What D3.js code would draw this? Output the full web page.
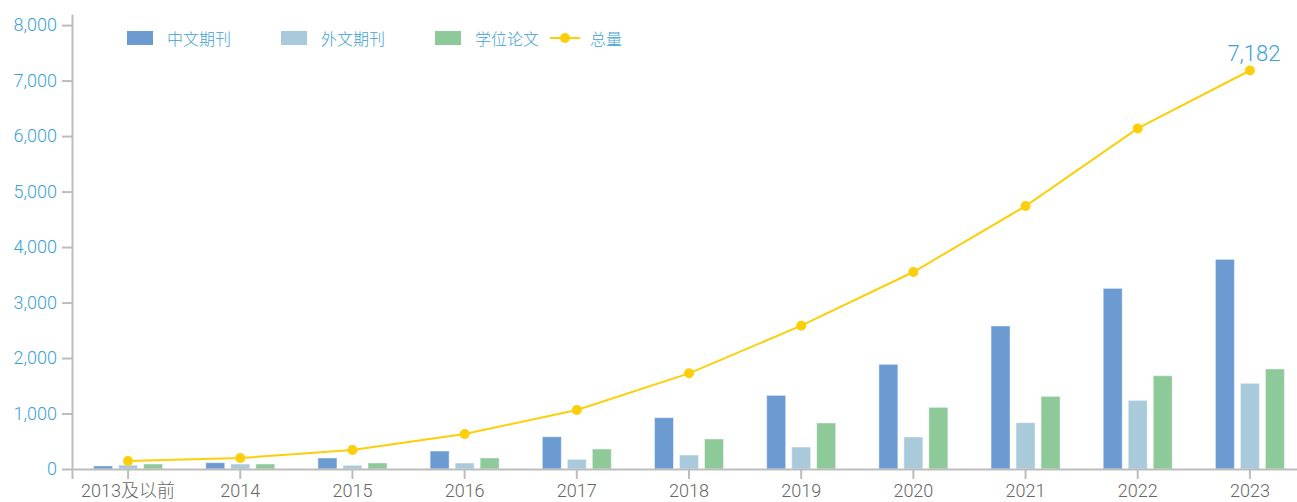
<!DOCTYPE html>
<html>
<head>
<meta charset="utf-8">
<script src="https://cdn.jsdelivr.net/npm/d3@7"></script>
<style>
  body { margin: 0; background: #fff; }
  svg { display: block; }
</style>
</head>
<body>
<script>
const width = 1297;
const height = 502;

const years = ['2013及以前', '2014', '2015', '2016', '2017', '2018', '2019', '2020', '2021', '2022', '2023'];
const seriesNames = ['中文期刊', '外文期刊', '学位论文'];
const chineseJournals = [55, 114, 198, 324, 582, 925, 1327, 1886, 2577, 3255, 3778];
const foreignJournals = [70, 90, 66, 108, 174, 252, 396, 577, 835, 1237, 1544];
const theses = [90, 90, 108, 198, 360, 540, 829, 1111, 1309, 1682, 1802];
const totals = [145, 198, 342, 630, 1063, 1724, 2583, 3550, 4739, 6138, 7182];
const yTicks = [0, 1000, 2000, 3000, 4000, 5000, 6000, 7000, 8000];

const colors = ['#6c9bd2', '#a9cadb', '#8ec99a'];
const lineColor = '#fccf0a';
const axisColor = '#bdbdbd';
const font = 'Roboto, "Noto Sans CJK SC", sans-serif';

const seriesValues = [chineseJournals, foreignJournals, theses];

const svg = d3.select('body')
  .append('svg')
  .attr('width', width)
  .attr('height', height);

const xScale = d3.scaleBand()
  .domain(years)
  .range([72, 1306]);

const inner = d3.scaleBand()
  .domain(seriesNames)
  .range([-37.5, 37.5])
  .paddingInner(0.24)
  .paddingOuter(0.12);

const yScale = d3.scaleLinear()
  .domain([0, 8200])
  .range([469, 14]);

// bars
seriesNames.forEach(function (name, s) {
  svg.append('g')
    .selectAll('rect')
    .data(seriesValues[s])
    .enter()
    .append('rect')
    .attr('x', function (d, i) {
      return xScale(years[i]) + xScale.bandwidth() / 2 + inner(name);
    })
    .attr('y', function (d) { return yScale(d); })
    .attr('width', inner.bandwidth())
    .attr('height', function (d) { return yScale(0) - yScale(d); })
    .attr('fill', colors[s])
    .attr('stroke', 'rgba(255,255,255,0.45)')
    .attr('stroke-width', 1);
});

// axes
const xAxis = d3.axisBottom(xScale)
  .tickSize(10)
  .tickSizeOuter(10)
  .tickPadding(5);

const yAxis = d3.axisLeft(yScale)
  .tickValues(yTicks)
  .tickFormat(d3.format(','))
  .tickSize(10)
  .tickSizeOuter(0)
  .tickPadding(5);

const gx = svg.append('g')
  .attr('transform', `translate(0, ${yScale(0)})`)
  .call(xAxis);

gx.selectAll('text')
  .attr('fill', '#666')
  .attr('font-size', '18px')
  .attr('font-weight', 300)
  .attr('font-family', font);

const gy = svg.append('g')
  .attr('transform', 'translate(72, 0)')
  .call(yAxis);

gy.selectAll('text')
  .attr('fill', '#3d9fd8')
  .attr('font-size', '18px')
  .attr('font-weight', 300)
  .attr('font-family', font);

svg.selectAll('.domain, .tick line')
  .attr('stroke', axisColor)
  .attr('stroke-width', 2);

// total line
const cx = function (d, i) { return xScale(years[i]) + xScale.bandwidth() / 2; };

svg.append('path')
  .datum(totals)
  .attr('fill', 'none')
  .attr('stroke', lineColor)
  .attr('stroke-width', 2)
  .attr('d', d3.line().x(cx).y(function (d) { return yScale(d); }));

svg.append('g')
  .selectAll('circle')
  .data(totals)
  .enter()
  .append('circle')
  .attr('cx', cx)
  .attr('cy', function (d) { return yScale(d); })
  .attr('r', 5)
  .attr('fill', lineColor);

const last = totals.length - 1;
svg.append('text')
  .attr('x', cx(totals[last], last) + 4)
  .attr('y', yScale(totals[last]) - 9)
  .attr('text-anchor', 'middle')
  .attr('fill', '#3d9fd8')
  .attr('font-size', '22px')
  .attr('font-weight', 300)
  .attr('font-family', font)
  .text(d3.format(',')(totals[last]));

// legend
const legend = svg.append('g');
seriesNames.forEach(function (name, s) {
  const lx = 127 + 154 * s;
  legend.append('rect')
    .attr('x', lx)
    .attr('y', 31)
    .attr('width', 26)
    .attr('height', 14)
    .attr('fill', colors[s]);
  legend.append('text')
    .attr('x', lx + 40)
    .attr('y', 45)
    .attr('fill', '#3d9fd8')
    .attr('font-size', '16px')
    .attr('font-weight', 300)
    .attr('font-family', '"Noto Sans CJK SC", sans-serif')
    .text(name);
});
legend.append('line')
  .attr('x1', 550).attr('x2', 580)
  .attr('y1', 38).attr('y2', 38)
  .attr('stroke', lineColor)
  .attr('stroke-width', 2);
legend.append('circle')
  .attr('cx', 565).attr('cy', 38).attr('r', 5)
  .attr('fill', lineColor);
legend.append('text')
  .attr('x', 590)
  .attr('y', 45)
  .attr('fill', '#3d9fd8')
  .attr('font-size', '16px')
  .attr('font-weight', 300)
  .attr('font-family', '"Noto Sans CJK SC", sans-serif')
  .text('总量');
</script>
</body>
</html>
